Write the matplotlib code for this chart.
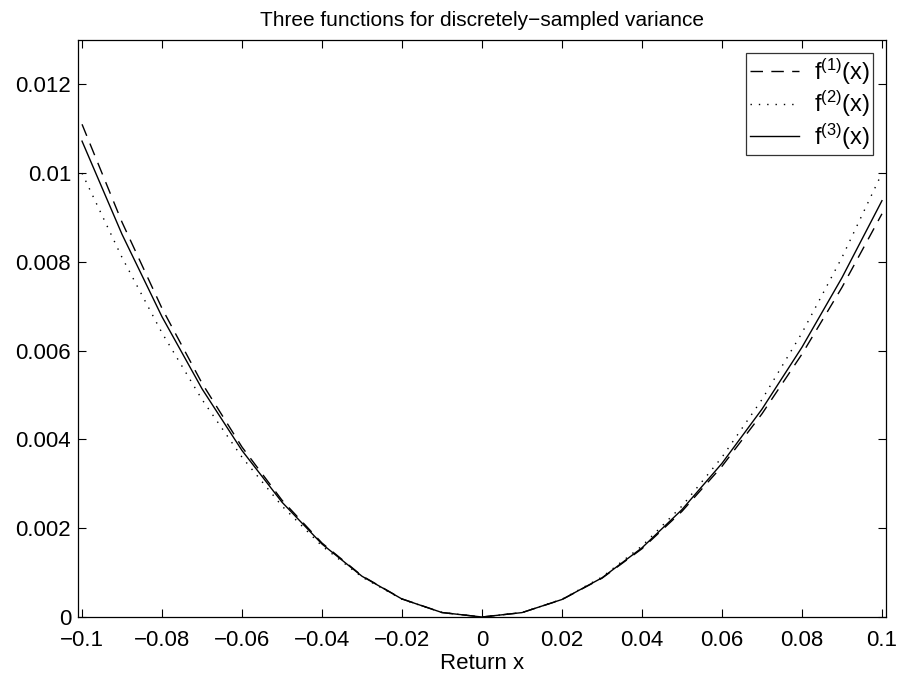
import numpy as np
import matplotlib
matplotlib.use("Agg")
import matplotlib.pyplot as plt

plt.rcParams['font.family'] = ['Liberation Sans', 'DejaVu Sans']
plt.rcParams['mathtext.fontset'] = 'custom'
plt.rcParams['mathtext.rm'] = 'Liberation Sans'
plt.rcParams['mathtext.it'] = 'Liberation Sans'
plt.rcParams['mathtext.default'] = 'regular'

# returns, sampled every 0.01
x = [-0.10, -0.09, -0.08, -0.07, -0.06, -0.05, -0.04, -0.03, -0.02, -0.01, 0.0,
     0.01, 0.02, 0.03, 0.04, 0.05, 0.06, 0.07, 0.08, 0.09, 0.10]

f1 = [0.011101, 0.0088945, 0.0069525, 0.0052665, 0.0038286, 0.0026310, 0.0016664,
      0.00092776, 0.00040815, 0.00010101, 0.0,
      0.00009901, 0.00039214, 0.00087372, 0.0015383, 0.0023805, 0.0033953,
      0.0045777, 0.0059230, 0.0074266, 0.0090840]

f2 = [0.0100, 0.0081, 0.0064, 0.0049, 0.0036, 0.0025, 0.0016, 0.0009, 0.0004, 0.0001, 0.0,
      0.0001, 0.0004, 0.0009, 0.0016, 0.0025, 0.0036, 0.0049, 0.0064, 0.0081, 0.0100]

f3 = [0.010721, 0.0086214, 0.0067632, 0.0051414, 0.0037508, 0.0025866, 0.0016440,
      0.0009184, 0.0004054, 0.0001006, 0.0,
      0.0000993, 0.0003948, 0.0008824, 0.0015586, 0.0024196, 0.0034622,
      0.0046828, 0.0060780, 0.0076446, 0.0093796]

labels = ['f$^{(1)}$(x)', 'f$^{(2)}$(x)', 'f$^{(3)}$(x)']
xticks = [-0.1, -0.08, -0.06, -0.04, -0.02, 0, 0.02, 0.04, 0.06, 0.08, 0.1]
xticklabels = ['\u22120.1', '\u22120.08', '\u22120.06', '\u22120.04', '\u22120.02', '0',
               '0.02', '0.04', '0.06', '0.08', '0.1']
yticks = [0, 0.002, 0.004, 0.006, 0.008, 0.01, 0.012]
yticklabels = ['0', '0.002', '0.004', '0.006', '0.008', '0.01', '0.012']

fig = plt.figure(figsize=(8.99, 6.79), dpi=100)
ax = fig.add_axes([0.0868, 0.0913, 0.8987, 0.8498])

ax.plot(x, f1, color='black', linewidth=1.0, linestyle=(0, (9, 6)), label=labels[0])
ax.plot(x, f2, color='black', linewidth=1.0, linestyle=(0, (1, 5)), label=labels[1])
ax.plot(x, f3, color='black', linewidth=1.0, linestyle='-', label=labels[2])

ax.set_xlim(-0.101, 0.101)
ax.set_ylim(0, 0.013)
ax.set_xticks(xticks)
ax.set_xticklabels(xticklabels)
ax.set_yticks(yticks)
ax.set_yticklabels(yticklabels)
ax.tick_params(direction='in', top=True, right=True, length=6, width=0.8,
               labelsize=16)
ax.tick_params(axis='x', pad=9)
ax.tick_params(axis='y', pad=5)
for s in ax.spines.values():
    s.set_linewidth(0.9)

ax.set_xlabel('Return x', fontsize=16, labelpad=2)
ax.set_title('Three functions for discretely\u2212sampled variance', fontsize=15, pad=10)

leg = ax.legend(loc='upper right', fontsize=17, frameon=True, fancybox=False,
                edgecolor='black', handlelength=2.1, handletextpad=0.6,
                borderpad=0.15, labelspacing=0.1, borderaxespad=0.55)
leg.get_frame().set_linewidth(0.9)

fig.savefig('out.png', dpi=100)
